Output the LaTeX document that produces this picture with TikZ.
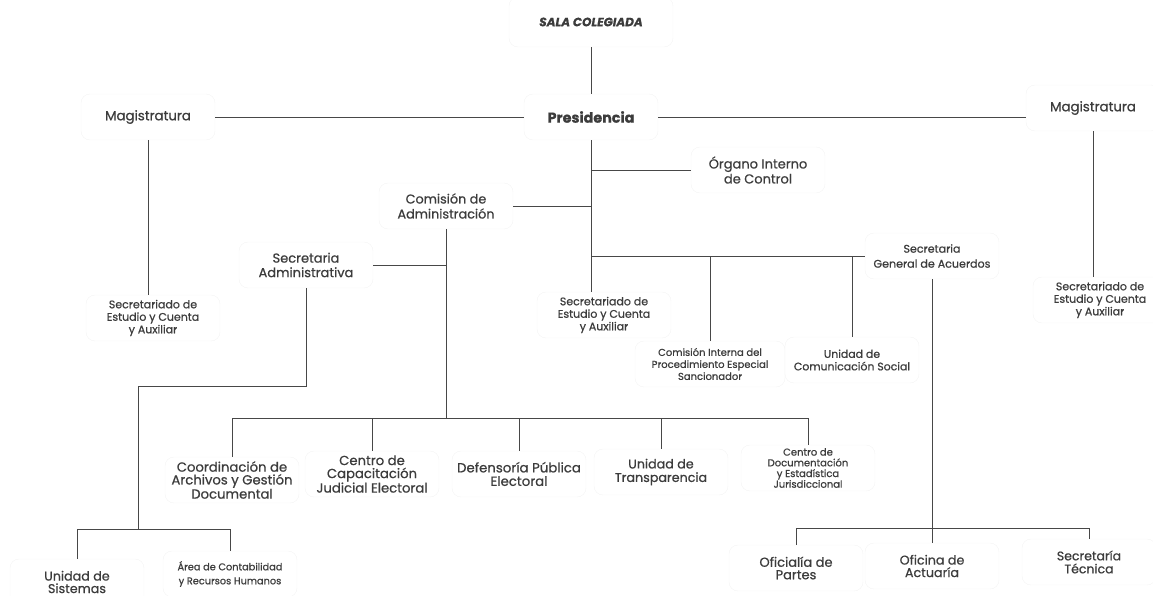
\documentclass[tikz,border=0pt]{standalone}
\usepackage{fontspec}
\setmainfont{Poppins}[FakeBold=0.7]
\usetikzlibrary{positioning}
\definecolor{inkgray}{HTML}{3C3C3C}
\definecolor{linegray}{HTML}{474747}
\definecolor{boxgray}{HTML}{F4F4F4}

\begin{document}
\begin{tikzpicture}[x=1pt, y=-1pt,
  unit/.style={draw=boxgray, fill=white, rounded corners=9pt, align=center,
    text=inkgray, minimum width=134pt, minimum height=46pt, inner sep=2pt},
  link/.style={draw=linegray, line width=0.9pt}]
  \useasboundingbox (0,0) rectangle (1153,596);
  \newcommand*{\Fnt}[2]{\fontsize{#1}{#2}\selectfont}
  % top level
  \node[unit, minimum width=164pt, minimum height=50pt, font=\Fnt{12}{14}\bfseries\itshape] (sala) at (591,22) {SALA COLEGIADA};
  \node[unit, font=\Fnt{14.3}{18}\bfseries] (pres) at (591,117) {Presidencia};
  \node[unit, font=\Fnt{13.3}{15}] (magL) at (148,117) {Magistratura};
  \node[unit, font=\Fnt{13.3}{15}] (magR) at (1093,108) {Magistratura};
  \node[unit, font=\Fnt{11}{12.5}] (secL) at (153,318) {Secretariado de\\Estudio y Cuenta\\y Auxiliar};
  \node[unit, font=\Fnt{11}{12.5}] (secM) at (604,315) {Secretariado de\\Estudio y Cuenta\\y Auxiliar};
  \node[unit, font=\Fnt{11}{12.5}] (secR) at (1100,300) {Secretariado de\\Estudio y Cuenta\\y Auxiliar};
  % presidencia branches
  \node[unit, font=\Fnt{13}{15}] (organo) at (758,170) {Órgano Interno\\de Control};
  \node[unit, font=\Fnt{12.8}{15}] (comision) at (446,206) {Comisión de\\Administración};
  \node[unit, font=\Fnt{11.1}{15}] (sga) at (932,256) {Secretaria\\General de Acuerdos};
  \node[unit, minimum width=150pt, font=\Fnt{10}{12}] (cipes) at (710,364) {Comisión Interna del\\Procedimiento Especial\\Sancionador};
  \node[unit, font=\Fnt{10.9}{12.5}] (ucs) at (852,360) {Unidad de\\Comunicación Social};
  % comision de administracion
  \node[unit, font=\Fnt{13}{14.5}] (secAdm) at (306,265) {Secretaria\\Administrativa};
  \node[unit, font=\Fnt{13.2}{12.8}] (coord) at (232,480) {Coordinación de\\Archivos y Gestión\\Documental};
  \node[unit, font=\Fnt{13.2}{13}] (capac) at (372,474) {Centro de\\Capacitación\\Judicial Electoral};
  \node[unit, font=\Fnt{13.3}{13.5}] (defens) at (519,474) {Defensoría Pública\\Electoral};
  \node[unit, font=\Fnt{12.7}{13.5}] (transp) at (661,472) {Unidad de\\Transparencia};
  \node[unit, font=\Fnt{10}{10.7}] (docum) at (808,468) {Centro de\\Documentación\\y Estadística\\Jurisdiccional};
  \node[unit, font=\Fnt{12.7}{12.5}] (usist) at (77,582) {Unidad de\\Sistemas};
  \node[unit, font=\Fnt{9.8}{14}] (area) at (230,574) {Área de Contabilidad\\y Recursos Humanos};
  % secretaria general de acuerdos
  \node[unit, font=\Fnt{13}{12.5}] (ofpartes) at (796,568) {Oficialía de\\Partes};
  \node[unit, font=\Fnt{12.7}{12.5}] (ofact) at (932,566) {Oficina de\\Actuaría};
  \node[unit, font=\Fnt{12.5}{13}] (sectec) at (1089,562) {Secretaría\\Técnica};
  % bends and bars
  \coordinate (cbar) at (446,418);
  \coordinate (abend) at (138,386);
  \coordinate (abar) at (138,529);
  \coordinate (sbar) at (932,528);
  % connectors
  \draw[link] (sala.south -| pres.north) -- (pres.north);
  \draw[link] (pres.west) -- (magL.east);
  \draw[link] (pres.east) -- (pres.east -| magR.west);
  \draw[link] (magL.south) -- (magL.south |- secL.north);
  \draw[link] (magR.south) -- (magR.south |- secR.north);
  \draw[link] (pres.south) -- (pres.south |- secM.north);
  \draw[link] (pres.south |- organo.west) -- (organo.west);
  \draw[link] (pres.south |- comision.east) -- (comision.east);
  \draw[link] (pres.south |- sga.west) -- (sga.west);
  \draw[link] (cipes.north |- sga.west) -- (cipes.north);
  \draw[link] (ucs.north |- sga.west) -- (ucs.north);
  \draw[link] (comision.south) -- (cbar);
  \draw[link] (comision.south |- secAdm.east) -- (secAdm.east);
  \draw[link] (coord.north |- cbar) -- (docum.north |- cbar);
  \foreach \n in {coord,capac,defens,transp,docum}
    \draw[link] (\n.north |- cbar) -- (\n.north);
  \draw[link] (secAdm.south) |- (abend) -- (abar);
  \draw[link] (usist.north |- abar) -- (area.north |- abar);
  \foreach \n in {usist,area}
    \draw[link] (\n.north |- abar) -- (\n.north);
  \draw[link] (sga.south) -- (ofact.north);
  \draw[link] (ofpartes.north |- sbar) -- (sectec.north |- sbar);
  \foreach \n in {ofpartes,sectec}
    \draw[link] (\n.north |- sbar) -- (\n.north);
\end{tikzpicture}
\end{document}
